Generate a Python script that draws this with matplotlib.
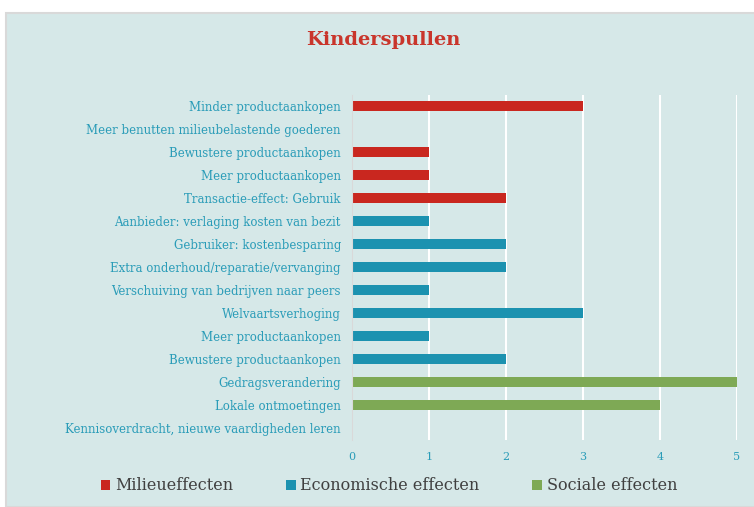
import matplotlib.pyplot as plt
import numpy as np
from matplotlib.patches import Patch, Rectangle

# --- data ---
milieu_labels = ['Minder productaankopen', 'Meer benutten milieubelastende goederen',
                 'Bewustere productaankopen', 'Meer productaankopen',
                 'Transactie-effect: Gebruik']
milieu_values = [3, 0, 1, 1, 2]

econ_labels = ['Aanbieder: verlaging kosten van bezit', 'Gebruiker: kostenbesparing',
               'Extra onderhoud/reparatie/vervanging', 'Verschuiving van bedrijven naar peers',
               'Welvaartsverhoging', 'Meer productaankopen', 'Bewustere productaankopen']
econ_values = [1, 2, 2, 1, 3, 1, 2]

sociaal_labels = ['Gedragsverandering', 'Lokale ontmoetingen',
                  'Kennisoverdracht, nieuwe vaardigheden leren']
sociaal_values = [5, 4, 0]

series_names = ['Milieueffecten', 'Economische effecten', 'Sociale effecten']
colors = ['#c9271f', '#1c92b0', '#7ea955']

plt.rcParams['font.family'] = ['DejaVu Serif']
bg = '#d6e8e8'
label_color = '#2a9cb8'

fig = plt.figure(figsize=(7.54, 5.07), dpi=100)
fig.patch.set_facecolor('white')
# panel background behind everything
fig.patches.append(Rectangle((6 / 754, 0), 1, 1 - 13 / 507, transform=fig.transFigure,
                             facecolor=bg, edgecolor='#d9d9d9', linewidth=1.5, zorder=-10))

ax = fig.add_axes([352 / 754, 1 - 439.5 / 507, 385 / 754, 345 / 507])
ax.set_facecolor('none')
ax.set_zorder(1)

groups = [(milieu_labels, milieu_values), (econ_labels, econ_values),
          (sociaal_labels, sociaal_values)]
all_labels = []
pos = 0
for (labels, values), color in zip(groups, colors):
    y = np.arange(pos, pos + len(labels))
    ax.barh(y, values, height=0.47, color=color, zorder=3)
    all_labels += labels
    pos += len(labels)

ax.set_ylim(len(all_labels) - 0.5, -0.5)
ax.set_xlim(0, 5)
ax.set_yticks(np.arange(len(all_labels)))
ax.set_yticklabels(all_labels, fontsize=8.5, color=label_color)
ax.set_xticks(range(6))
ax.tick_params(axis='x', colors=label_color, labelsize=8, length=0, pad=9)
ax.tick_params(axis='y', length=0, pad=8)
ax.grid(axis='x', color='white', linewidth=1.5, zorder=0)
ax.set_axisbelow(True)
for s in ['top', 'right', 'bottom']:
    ax.spines[s].set_visible(False)
ax.spines['left'].set_color('#d9d9d9')
ax.spines['left'].set_zorder(4)

fig.text(383 / 754, 1 - 40 / 507, 'Kinderspullen', ha='center', va='center',
         fontsize=14, fontweight='bold', color='#c9352b')

handles = [Patch(facecolor=c, label=n) for c, n in zip(colors, series_names)]
fig.legend(handles=handles, loc='center', bbox_to_anchor=(389 / 754, 1 - 486 / 507),
           ncol=3, frameon=False, fontsize=11.5, labelcolor='#404040',
           handlelength=0.6, handleheight=0.6, handletextpad=0.3, columnspacing=3.3)

fig.savefig('out.png', dpi=100)
